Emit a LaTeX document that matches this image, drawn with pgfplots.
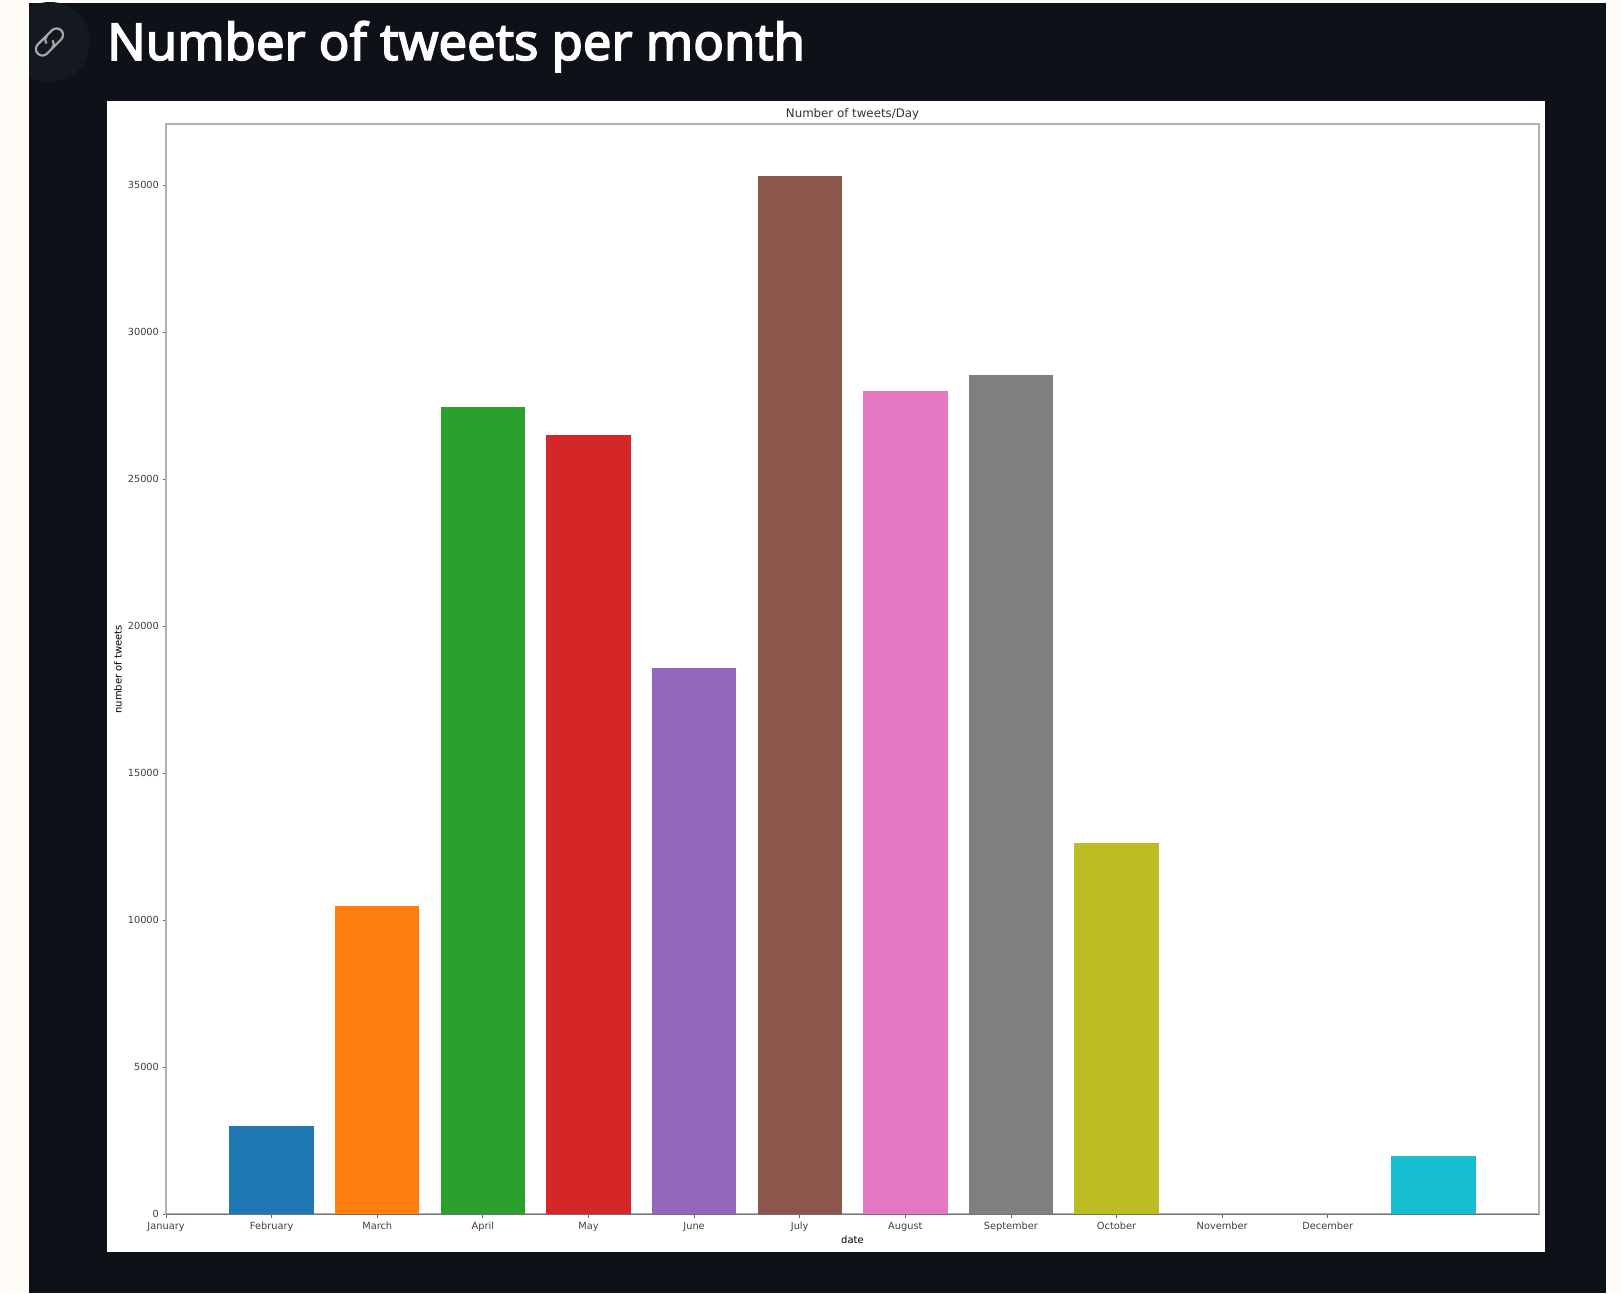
\documentclass[border=0pt]{standalone}
\usepackage{fontspec}
\setmainfont{DejaVu Sans}
\newfontfamily\titlefont[FakeBold=3]{Noto Sans}
\usepackage{pgfplots}
\pgfplotsset{compat=1.18}
\definecolor{page}{HTML}{FFFBF6}
\definecolor{panel}{HTML}{0E1117}
\definecolor{halo}{HTML}{141820}
\definecolor{tabblue}{HTML}{1F77B4}
\definecolor{taborange}{HTML}{FF7F0E}
\definecolor{tabgreen}{HTML}{2CA02C}
\definecolor{tabred}{HTML}{D62728}
\definecolor{tabpurple}{HTML}{9467BD}
\definecolor{tabbrown}{HTML}{8C564B}
\definecolor{tabpink}{HTML}{E377C2}
\definecolor{tabgray}{HTML}{7F7F7F}
\definecolor{tabolive}{HTML}{BCBD22}
\definecolor{tabcyan}{HTML}{17BECF}
\begin{document}
\begin{tikzpicture}[x=1pt,y=1pt]
  \useasboundingbox (0,0) rectangle (1621,1293);
  % page, dark panel, white card (pixel positions, y measured from the bottom)
  \fill[page] (0,0) rectangle (1621,1293);
  \fill[panel] (29,0) rectangle (1606,1290);
  \begin{scope}
    \clip (29,0) rectangle (1606,1290);
    \fill[halo] (50,1251) circle (40);
  \end{scope}
  % link icon
  \begin{scope}[shift={(49.5,1251)},rotate=45,draw=black!35!white,line width=2.2pt]
    \draw (2,6.5) -- (-10,6.5) arc (90:270:6.5) -- (-3,-6.5) arc (270:350:6.5);
    \draw (-2,-6.5) -- (10,-6.5) arc (-90:90:6.5) -- (3,6.5) arc (90:170:6.5);
  \end{scope}
  \node[anchor=base west,inner sep=0pt,text=white] at (107,1233)
    {\titlefont\fontsize{50.8}{60}\selectfont Number of tweets per month};
  \fill[white] (107,41.5) rectangle (1545,1191.5);
  \begin{axis}[
    at={(166pt,78.6pt)},
    anchor=south west,
    scale only axis,
    width=1373pt,
    height=1090.2pt,
    xmin=0, xmax=13,
    ymin=0, ymax=37080,
    ybar,
    bar width=84.4pt,
    bar shift=0pt,
    xtick={0,1,2,3,4,5,6,7,8,9,10,11},
    xticklabels={January,February,March,April,May,June,July,August,September,October,November,December},
    ytick={0,5000,10000,15000,20000,25000,30000,35000},
    scaled y ticks=false,
    /pgf/number format/1000 sep={},
    /pgf/number format/assume math mode=true,
    tick label style={font=\fontsize{9.8}{12}\selectfont,text=black!75},
    x tick label style={yshift=-1pt},
    label style={font=\fontsize{9.8}{12}\selectfont,text=black!75},
    tick align=outside,
    tick pos=left,
    major tick length=3.5pt,
    tick style={black!60,line width=0.8pt},
    axis line style={black!30,line width=2pt},
    title={Number of tweets/Day},
    every axis title/.style={at={(rel axis cs:0.5,1)},yshift=10pt,anchor=center,font=\fontsize{11.8}{14}\selectfont,text=black!80},
    xlabel={date},
    every axis x label/.style={at={(rel axis cs:0.5,0)},yshift=-25.3pt,anchor=center},
    ylabel={number of tweets},
    every axis y label/.style={at={(rel axis cs:0,0.5)},xshift=-48pt,rotate=90,anchor=center},
  ]
    \addplot[fill=tabblue,draw=none] coordinates {(1,3020)};
    \addplot[fill=taborange,draw=none] coordinates {(2,10500)};
    \addplot[fill=tabgreen,draw=none] coordinates {(3,27460)};
    \addplot[fill=tabred,draw=none] coordinates {(4,26510)};
    \addplot[fill=tabpurple,draw=none] coordinates {(5,18590)};
    \addplot[fill=tabbrown,draw=none] coordinates {(6,35330)};
    \addplot[fill=tabpink,draw=none] coordinates {(7,28000)};
    \addplot[fill=tabgray,draw=none] coordinates {(8,28540)};
    \addplot[fill=tabolive,draw=none] coordinates {(9,12620)};
    \addplot[fill=tabcyan,draw=none] coordinates {(12,1973)};
    \draw[black!55,line width=1pt] (rel axis cs:0,0) -- (rel axis cs:1,0);
  \end{axis}
\end{tikzpicture}
\end{document}
